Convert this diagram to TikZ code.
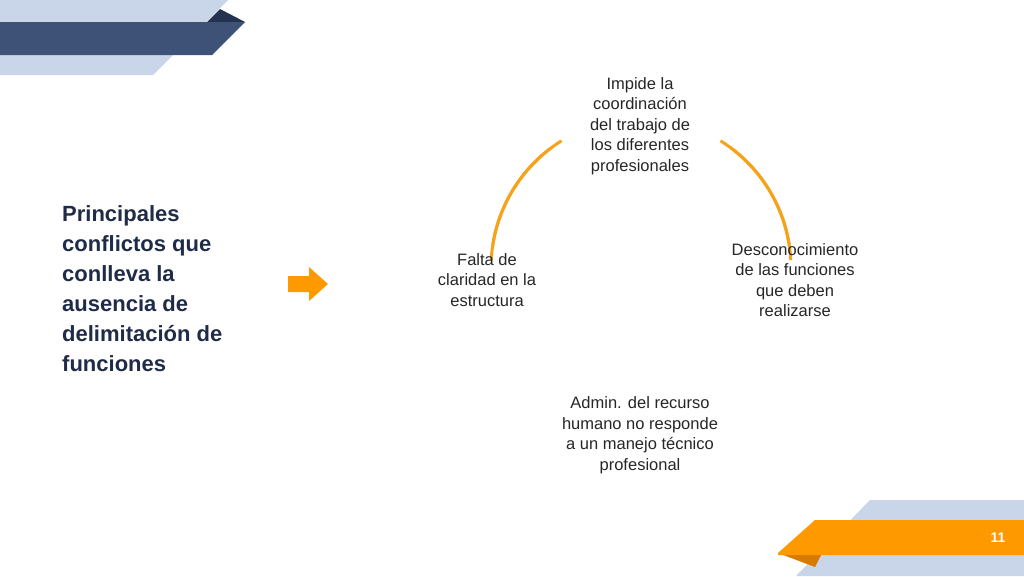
\documentclass[tikz,border=0pt]{standalone}
\usepackage{fontspec}
\setmainfont{Liberation Sans}
\begin{document}
\begin{tikzpicture}[x=1pt,y=-1pt,
  lbl/.style={align=center,font=\fontsize{16.5}{20.5}\selectfont,text=black!85,inner sep=0pt},
  arcln/.style={draw=orangeA,line width=3pt}]
\definecolor{orangeA}{HTML}{F7A21B}
\definecolor{lightblue}{HTML}{C9D5E8}
\definecolor{navy}{HTML}{3E5277}
\definecolor{darknavy}{HTML}{243350}
\definecolor{titlec}{HTML}{1F2B47}
\definecolor{orangeB}{HTML}{FF9900}
\definecolor{orangeD}{HTML}{D97A00}
\useasboundingbox (0,0) rectangle (1024,576);
% top-left decoration
\fill[lightblue] (0,0) -- (228,0) -- (153,75) -- (0,75) -- cycle;
\fill[darknavy] (207,22) -- (220,9) -- (245,22) -- cycle;
\fill[navy] (0,22) -- (245,22) -- (212,55) -- (0,55) -- cycle;
% bottom-right decoration
\fill[lightblue] (870,500) -- (1024,500) -- (1024,576) -- (796,576) -- cycle;
\fill[orangeD] (778,553) -- (815,567) -- (822,553) -- cycle;
\fill[orangeB] (815,520) -- (1024,520) -- (1024,555) -- (778,555) -- (778,553) -- cycle;
\node[text=white,font=\bfseries\fontsize{14}{14}\selectfont] (pg) at (998,538) {11};
% title
\node[anchor=west,align=left,text=titlec,font=\bfseries\fontsize{22}{30}\selectfont,inner sep=0pt] (title) at (62,289) {Principales\\conflictos que\\conlleva la\\ausencia de\\delimitación de\\funciones};
% arrow
\fill[orangeB] (288,276) -- (309,276) -- (309,267) -- (328,284) -- (309,301) -- (309,292) -- (288,292) -- cycle;
\coordinate (c) at (641,268);
% arcs
\draw[arcln] (c) ++(-53:150) arc[start angle=-53,end angle=-3,radius=150];
\draw[arcln] (c) ++(183:150) arc[start angle=183,end angle=233,radius=150];
\draw[arcln] (c) ++(-122:150) arc[start angle=-122,end angle=-172,radius=150];
\draw[arcln] (c) ++(-58:150) arc[start angle=-58,end angle=-8,radius=150];
\path (c) ++(0,0);
% texts
\node[lbl] (t1) at (640,126) {Impide la\\coordinación\\del trabajo de\\los diferentes\\profesionales};
\node[lbl] (t2) at (795,280) {Desconocimiento\\de las funciones\\que deben\\realizarse};
\node[lbl] (t3) at (640,435) {Admin. del recurso\\humano no responde\\a un manejo técnico\\profesional};
\node[lbl] (t4) at (487,280) {Falta de\\claridad en la\\estructura};
\end{tikzpicture}
\end{document}
